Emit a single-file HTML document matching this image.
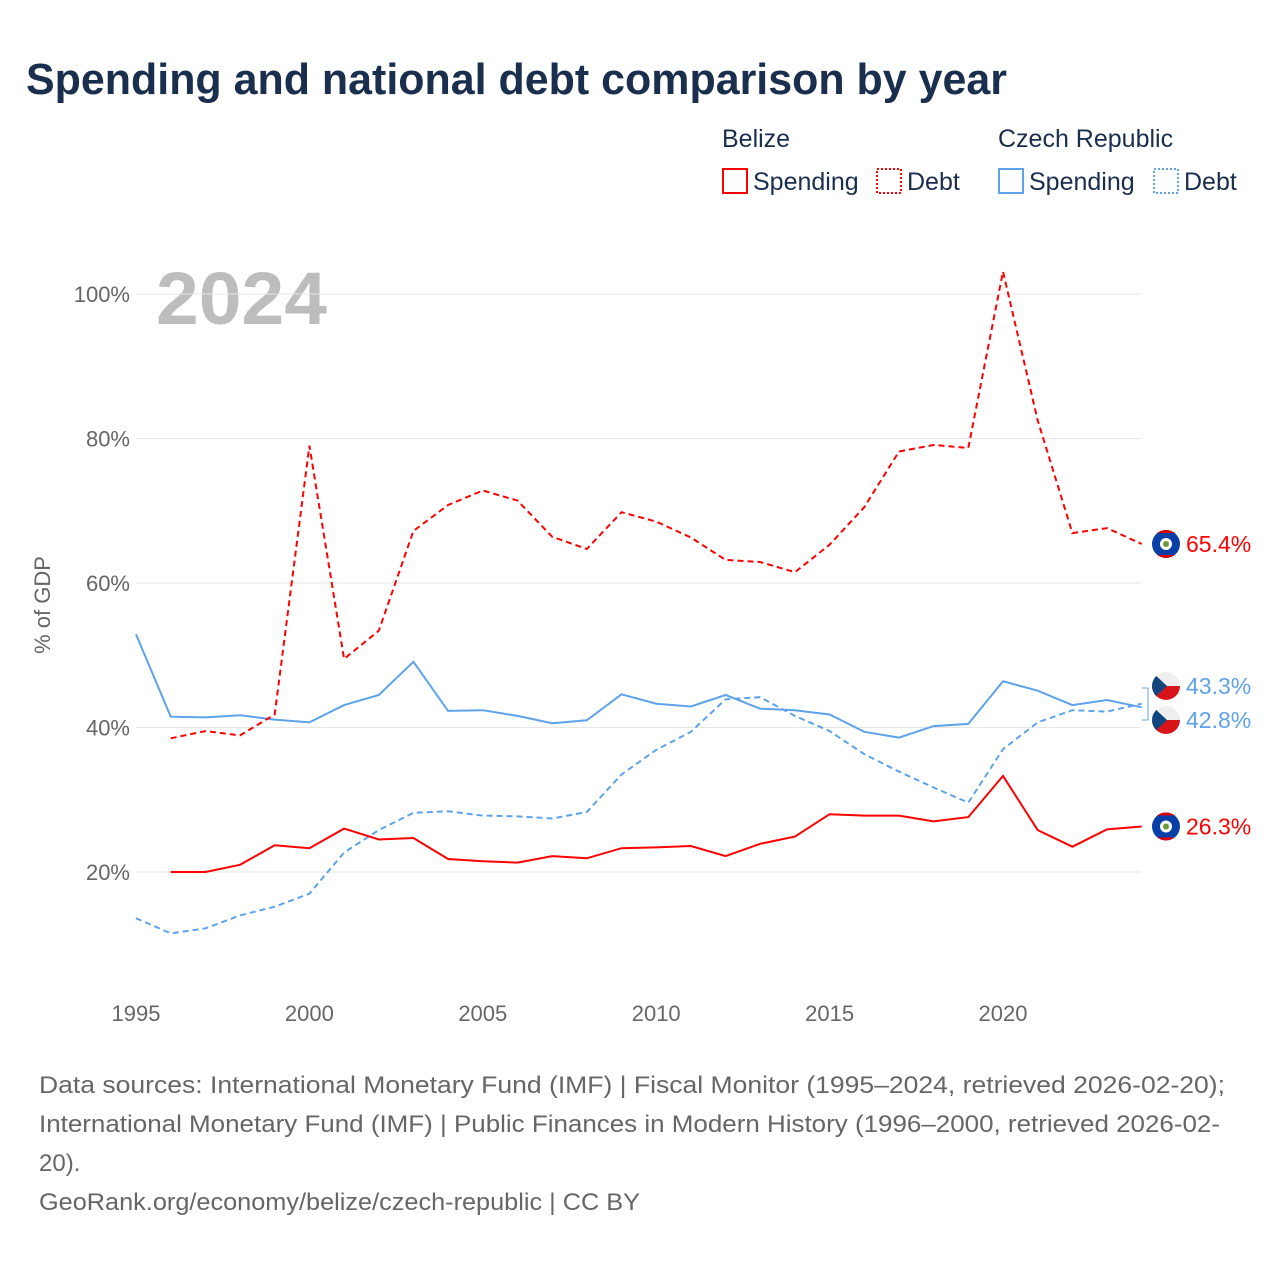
<!DOCTYPE html>
<html><head><meta charset="utf-8"><style>
body{margin:0;background:#fff;font-family:"Liberation Sans",sans-serif;}
#wrap{position:relative;width:1280px;height:1280px;overflow:hidden}
</style></head><body><div id="wrap">
<svg id="svg" width="1280" height="1280" xmlns="http://www.w3.org/2000/svg">
<text x="26" y="94" font-size="44" font-weight="bold" fill="#1a2e4d" textLength="981" lengthAdjust="spacingAndGlyphs">Spending and national debt comparison by year</text>
<g font-size="25" fill="#1a2e4d">
<text x="722" y="147">Belize</text>
<text x="998" y="147">Czech Republic</text>
<g><rect x="723" y="169" width="24" height="24" fill="none" stroke="#f00" stroke-width="2"/><text x="753" y="190">Spending</text></g>
<g><rect x="877" y="169" width="24" height="24" fill="none" stroke="#f00" stroke-width="2" stroke-dasharray="2,2"/><text x="907" y="190">Debt</text></g>
<g><rect x="999" y="169" width="24" height="24" fill="none" stroke="#5ea3ea" stroke-width="2"/><text x="1029" y="190">Spending</text></g>
<g><rect x="1154" y="169" width="24" height="24" fill="none" stroke="#5ea3ea" stroke-width="2" stroke-dasharray="2,2"/><text x="1184" y="190">Debt</text></g>
</g>
<text x="156" y="324" font-size="74" font-weight="bold" fill="#bdbdbd" textLength="171" lengthAdjust="spacingAndGlyphs">2024</text>
<text transform="translate(50,605) rotate(-90)" text-anchor="middle" font-size="22" fill="#666">% of GDP</text>
<g id="grid"></g><g id="lines"></g><g id="labels"></g>
<g font-size="24" fill="#666">
<text x="39" y="1093" textLength="1186" lengthAdjust="spacingAndGlyphs">Data sources: International Monetary Fund (IMF) | Fiscal Monitor (1995–2024, retrieved 2026-02-20);</text>
<text x="39" y="1132" textLength="1181" lengthAdjust="spacingAndGlyphs">International Monetary Fund (IMF) | Public Finances in Modern History (1996–2000, retrieved 2026-02-</text>
<text x="39" y="1171">20).</text>
<text x="39" y="1210" textLength="601" lengthAdjust="spacingAndGlyphs">GeoRank.org/economy/belize/czech-republic | CC BY</text>
</g>
</svg></div>
<script>
const yTicks=[20,40,60,80,100];
const xTicks=[1995,2000,2005,2010,2015,2020];
const belizeYears=[1996,1997,1998,1999,2000,2001,2002,2003,2004,2005,2006,2007,2008,2009,2010,2011,2012,2013,2014,2015,2016,2017,2018,2019,2020,2021,2022,2023,2024];
const belizeSpending=[20.0,20.0,21.0,23.7,23.3,26.0,24.5,24.7,21.8,21.5,21.3,22.2,21.9,23.3,23.4,23.6,22.2,23.9,24.9,28.0,27.8,27.8,27.0,27.6,33.3,25.8,23.5,25.9,26.3];
const belizeDebt=[38.5,39.5,38.9,41.8,79.0,49.5,53.4,67.2,70.8,72.8,71.4,66.4,64.7,69.8,68.5,66.3,63.2,62.9,61.5,65.3,70.5,78.2,79.1,78.7,103.1,82.5,66.9,67.6,65.4];
const czechYears=[1995,1996,1997,1998,1999,2000,2001,2002,2003,2004,2005,2006,2007,2008,2009,2010,2011,2012,2013,2014,2015,2016,2017,2018,2019,2020,2021,2022,2023,2024];
const czechSpending=[52.9,41.5,41.4,41.7,41.1,40.7,43.1,44.5,49.1,42.3,42.4,41.6,40.6,41.0,44.6,43.3,42.9,44.5,42.6,42.4,41.8,39.4,38.6,40.2,40.5,46.4,45.1,43.1,43.8,42.8];
const czechDebt=[13.6,11.5,12.2,14.0,15.2,17.0,22.7,25.8,28.2,28.4,27.8,27.7,27.4,28.3,33.5,36.9,39.4,43.9,44.2,41.6,39.5,36.3,33.9,31.7,29.6,37.0,40.7,42.4,42.2,43.3];
const NS="http://www.w3.org/2000/svg";
const x=yr=>136+(yr-1995)*34.68;
const y=v=>872-(v-20)*7.225;
function mk(t,a,p){const e=document.createElementNS(NS,t);for(const k in a)e.setAttribute(k,a[k]);p.appendChild(e);return e;}
const grid=document.getElementById('grid');
yTicks.forEach(v=>{
 const l=mk('line',{x1:136,x2:1141,y1:y(v),y2:y(v),stroke:'#e6e6e6','stroke-width':1},grid);
 
 
 const t=mk('text',{x:130,y:y(v)+8,'text-anchor':'end','font-size':22,fill:'#666'},grid);
 t.textContent=v+'%';
 
 
});
xTicks.forEach(v=>{
 const t=mk('text',{x:x(v),y:1021,'text-anchor':'middle','font-size':22,fill:'#666'},grid);
 t.textContent=v;
 
 
});
const lines=document.getElementById('lines');
function series(yrs,vals,col,dash,name){
 const d=yrs.map((yr,i)=>(i?'L':'M')+x(yr).toFixed(1)+','+y(vals[i]).toFixed(1)).join('');
 const p=mk('path',{d:d,fill:'none',stroke:col,'stroke-width':2,'stroke-dasharray':dash?'6,4':'none'},lines);
 
 
}
series(czechYears,czechDebt,'#5ea3ea',true,'line-czech-debt');
series(czechYears,czechSpending,'#5ea3ea',false,'line-czech-spending');
series(belizeYears,belizeDebt,'#f00',true,'line-belize-debt');
series(belizeYears,belizeSpending,'#f00',false,'line-belize-spending');
const lab=document.getElementById('labels');
mk('path',{d:'M1142,688 L1148,688 L1148,720 L1142,720',fill:'none',stroke:'#5ea3ea','stroke-width':1},lab);
let cid=0;
function endLabel(ly,val,col,belize,name){
 const g=mk('g',{},lab);
 
 
 const id='fc'+(cid++);
 const cp=mk('clipPath',{id:id},g);
 mk('circle',{cx:1166,cy:ly,r:14},cp);
 const f=mk('g',{'clip-path':'url(#'+id+')'},g);
 if(belize){
  mk('rect',{x:1152,y:ly-14,width:28,height:28,fill:'#0a3fa8'},f);
  mk('rect',{x:1152,y:ly-14,width:28,height:3,fill:'#d00'},f);
  mk('rect',{x:1152,y:ly+11,width:28,height:3,fill:'#d00'},f);
  mk('circle',{cx:1166,cy:ly,r:6,fill:'#fff'},f);
  mk('circle',{cx:1166,cy:ly,r:3,fill:'#6a9a3a'},f);
 } else {
  mk('rect',{x:1152,y:ly-14,width:28,height:14,fill:'#eee'},f);
  mk('rect',{x:1152,y:ly,width:28,height:14,fill:'#d7141a'},f);
  mk('path',{d:`M1152,${ly-14} L1167,${ly} L1152,${ly+14} Z`,fill:'#11457e'},f);
 }
 const t=mk('text',{x:1186,y:ly+8,'font-size':23,fill:col},g);
 t.textContent=val.toFixed(1)+'%';
}
endLabel(y(belizeDebt[belizeDebt.length-1]),belizeDebt[belizeDebt.length-1],'#f00',true,'end-label-belize-debt');
endLabel(686,czechDebt[czechDebt.length-1],'#5ea3ea',false,'end-label-czech-debt');
endLabel(720,czechSpending[czechSpending.length-1],'#5ea3ea',false,'end-label-czech-spending');
endLabel(y(belizeSpending[belizeSpending.length-1]),belizeSpending[belizeSpending.length-1],'#f00',true,'end-label-belize-spending');
</script></body></html>
